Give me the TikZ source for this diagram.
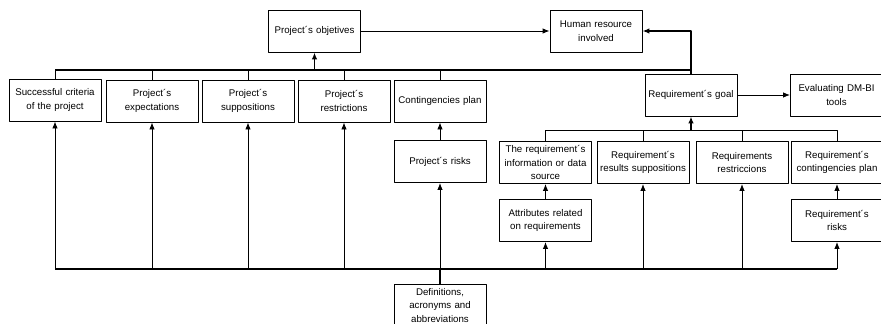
\documentclass[tikz,border=0pt]{standalone}
\usepackage{fontspec}
\setmainfont{Liberation Sans}
\usetikzlibrary{arrows.meta}
\begin{document}
\begin{tikzpicture}[x=1pt, y=-1pt, font=\fontsize{9.7}{13.5}\selectfont, line join=round, >={Latex[length=7pt,width=5.5pt]}]
	\tikzset{caja/.style={draw, line width=0.9pt, minimum width=92pt, minimum height=42pt, text width=88pt, align=center, inner sep=1pt},
		linea/.style={line width=0.9pt},
		bus/.style={line width=1.5pt}}
	\useasboundingbox (0,0) rectangle (881,324);
	% fila superior
	\node[caja] (obj) at (314.5,31) {Project´s objetives};
	\node[caja] (hr) at (596,31) {Human resource\\involved};
	\node[caja] (suc) at (55,100) {Successful criteria\\of the project};
	\node[caja] (exp) at (152,101) {Project´s\\expectations};
	\node[caja] (sup) at (248,101) {Project´s\\suppositions};
	\node[caja] (res) at (344,101) {Project´s\\restrictions};
	\node[caja] (con) at (440,101) {Contingencies plan};
	\node[caja] (goal) at (691,95) {Requirement´s goal};
	\node[caja] (eval) at (836.5,95) {Evaluating DM-BI\\tools};
	% fila del requerimiento
	\node[caja] (risk) at (440,161.5) {Project´s risks};
	\node[caja] (src) at (545.5,162.5) {The requirement´s\\information or data\\source};
	\node[caja] (rsup) at (643,162.5) {Requirement´s\\results suppositions};
	\node[caja] (rres) at (742,162.5) {Requirements\\restriccions};
	\node[caja] (rcon) at (837,162.5) {Requirement´s\\contingencies plan};
	\node[caja] (att) at (545.5,220.5) {Attributes related\\on requirements};
	\node[caja] (rrisk) at (837,220.5) {Requirement´s\\risks};
	\node[caja, anchor=north] (def) at (440,284) {Definitions,\\acronyms and\\abbreviations};
	% barras
	\coordinate (tbus) at (0,70);
	\coordinate (gbus) at (0,130);
	\coordinate (bbus) at (0,269);
	\draw[bus] (suc.north |- tbus) -- (goal.north |- tbus);
	\foreach \n in {suc,exp,sup,res,con} \draw[linea] (\n.north) -- (\n.north |- tbus);
	\draw[bus,->] (obj.south |- tbus) -- (obj.south);
	\draw[bus,->] (goal.north) |- (hr.east);
	\draw[linea,->] (obj.east) -- (hr.west);
	\draw[linea,->] (goal.east) -- (eval.west);
	\draw[linea] (src.north) |- (rcon.north |- gbus) -- (rcon.north);
	\foreach \n in {rsup,rres} \draw[linea] (\n.north) -- (\n.north |- gbus);
	\draw[bus,->] (goal.south |- gbus) -- (goal.south);
	\draw[linea,->] (risk) -- (con);
	\draw[linea,->] (att) -- (src);
	\draw[linea,->] (rrisk) -- (rcon);
	\draw[bus] (suc.south |- bbus) -- (rrisk.south |- bbus);
	\draw[bus] (def.north) -- (def.north |- bbus);
	\foreach \n in {suc,exp,sup,res,risk,att,rsup,rres,rrisk} \draw[linea,->] (\n.south |- bbus) -- (\n.south);
\end{tikzpicture}
\end{document}
